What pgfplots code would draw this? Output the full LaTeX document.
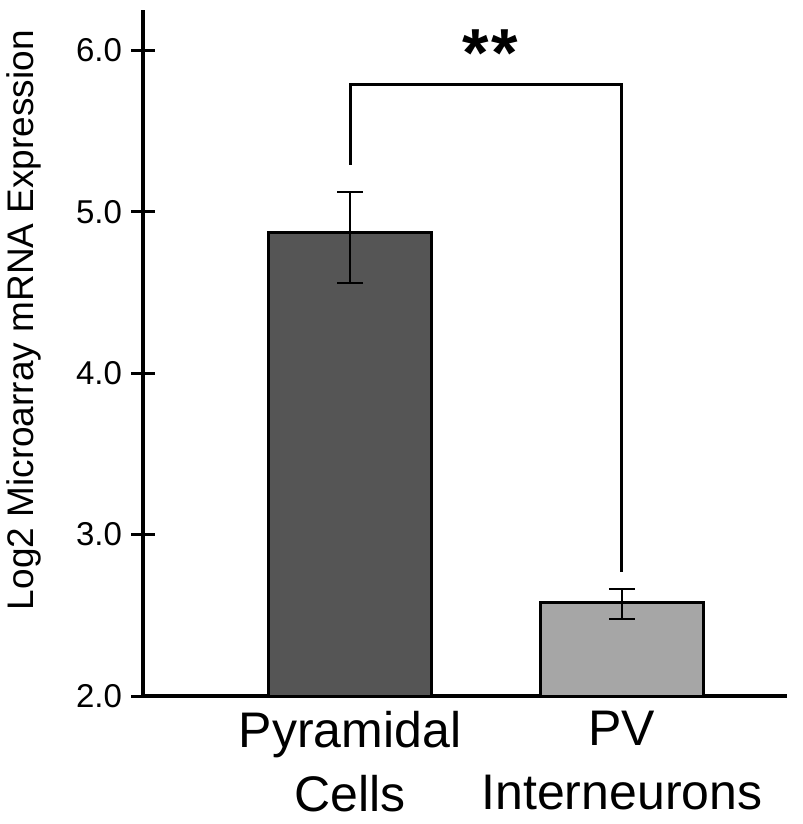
\documentclass[border=0pt]{standalone}
\usepackage{fontspec}
\setmainfont{Liberation Sans}
\usepackage{pgfplots}
\pgfplotsset{compat=1.18}
\usepackage{pgfplotstable}
\definecolor{darkbar}{HTML}{555555}
\definecolor{lightbar}{HTML}{A6A6A6}
\pgfplotstableread{
x y ep em
0 4.87 0.25 0.31
}\pyr
\pgfplotstableread{
x y ep em
1 2.58 0.08 0.10
}\pv
\begin{document}
\begin{tikzpicture}
\begin{axis}[
  scale only axis,
  width=322pt, height=343pt,
  xmin=-0.761, xmax=1.607,
  ymin=2, ymax=6.25,
  axis x line*=bottom, axis y line*=left,
  axis line style={line width=1.6pt, -},
  ytick={2,3,4,5,6},
  yticklabel style={font=\fontsize{16.5}{18}\selectfont, xshift=-1pt,
    /pgf/number format/fixed, /pgf/number format/fixed zerofill,
    /pgf/number format/precision=1, /pgf/number format/assume math mode=true},
  tick align=center,
  major tick length=12pt,
  ytick style={line width=1.5pt, black},
  xtick={0,1},
  xticklabels={Pyramidal\\Cells, PV\\Interneurons},
  xticklabel style={font=\fontsize{25}{32}\selectfont, align=center, yshift=8pt},
  xtick style={draw=none},
  ylabel={Log2 Microarray mRNA Expression},
  ylabel style={font=\fontsize{18.5}{20}\selectfont, at={(rel axis cs:-0.185,0.548)}, anchor=center},
  ybar, bar width=0.6, bar shift=0pt,
]
\addplot[fill=darkbar, draw=black, line width=1.5pt,
  error bars/.cd, y dir=both, y explicit,
  error bar style={line width=1pt, black},
  error mark options={rotate=90, mark size=6.5pt, line width=1pt, black}]
  table[x=x, y=y, y error plus=ep, y error minus=em]{\pyr};
\addplot[fill=lightbar, draw=black, line width=1.5pt,
  error bars/.cd, y dir=both, y explicit,
  error bar style={line width=1pt, black},
  error mark options={rotate=90, mark size=6.5pt, line width=1pt, black}]
  table[x=x, y=y, y error plus=ep, y error minus=em]{\pv};
\addplot[sharp plot, draw=black, line width=1.5pt, mark=none, line join=miter]
  coordinates {(0,5.29) (0,5.79) (1,5.79) (1,2.77)};
\node[font=\fontsize{34}{36}\selectfont\bfseries] at (axis cs:0.515,5.98) {*\kern1pt*};
\end{axis}
\path (current axis.south west) ++(-70.5pt,-64pt);
\path (current axis.south west) ++(329.5pt,348pt);
\end{tikzpicture}
\end{document}
